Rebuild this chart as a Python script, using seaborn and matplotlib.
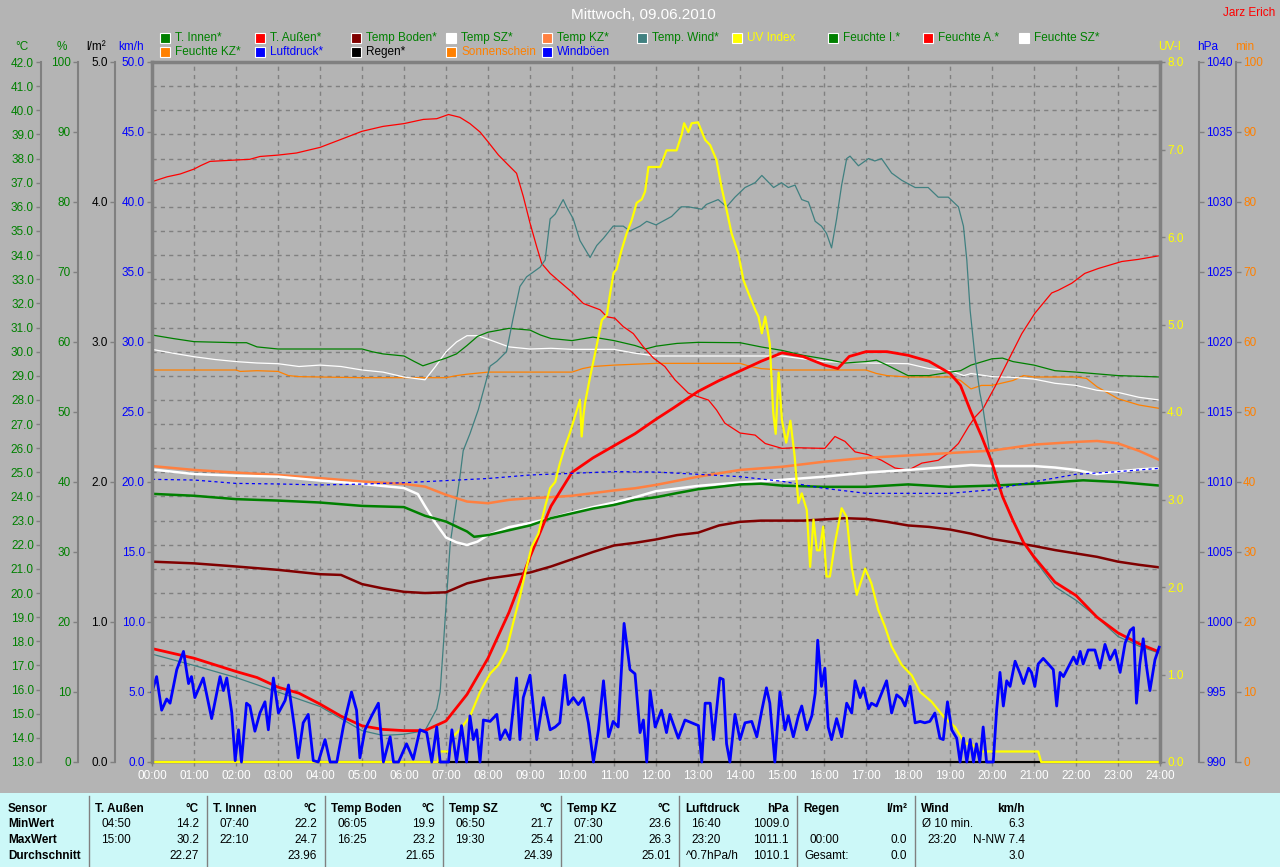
import numpy as np
import seaborn as sns
import matplotlib.pyplot as plt
from matplotlib.patches import Rectangle
from matplotlib.lines import Line2D

# ---------------- data (time in hours) ----------------
t_innen_t = [0, 1, 2, 3, 4, 5, 6, 6.5, 7, 7.5, 7.67, 8, 8.5, 9, 9.5, 10, 10.5, 11, 11.5, 12,
             12.5, 13, 13.5, 14, 14.5, 15, 16, 17, 18, 19, 20, 21, 22, 22.17, 23, 24]
t_innen = [24.11, 24.03, 23.89, 23.83, 23.75, 23.61, 23.56, 23.2, 22.96, 22.55, 22.33, 22.4, 22.6, 22.8,
           23.1, 23.3, 23.5, 23.65, 23.86, 23.97, 24.14, 24.3, 24.4, 24.5, 24.53, 24.45, 24.4, 24.4,
           24.5, 24.4, 24.45, 24.53, 24.65, 24.67, 24.6, 24.45]

t_aussen_t = [0, 1, 2, 2.5, 3, 3.5, 4, 4.5, 5, 5.5, 6, 6.5, 7, 7.5, 8, 8.5, 9, 9.5, 10, 10.5,
              11, 11.5, 12, 12.4, 13, 13.5, 14, 14.5, 15, 15.5, 16, 16.33, 16.6, 17, 17.5, 18, 18.5, 19, 19.25, 19.5,
              19.75, 20, 20.25, 20.5, 20.75, 21, 21.5, 22, 22.5, 23, 23.5, 24]
t_aussen = [17.7, 17.3, 16.75, 16.5, 16.1, 15.85, 15.4, 14.9, 14.5, 14.35, 14.3, 14.3, 14.7, 15.8, 17.3, 19.2,
            21.5, 23.6, 25.0, 25.6, 26.1, 26.6, 27.2, 27.65, 28.35, 28.8, 29.2, 29.6, 29.95, 29.8, 29.45, 29.3,
            29.8, 30.0, 30.0, 29.85, 29.6, 29.1, 28.6, 27.5, 26.5, 25.4, 24.0, 23.0, 22.1, 21.5, 20.45, 19.9,
            19.0, 18.35, 17.9, 17.55]

boden_t = [0, 1, 2, 3, 4, 4.5, 5, 5.5, 6, 6.5, 7, 7.5, 8, 8.5, 9, 9.5, 10, 10.5, 11, 11.5, 12, 12.5, 13,
           13.5, 14, 14.5, 15, 15.5, 16, 16.5, 17, 17.5, 18, 18.5, 19, 19.5, 20, 20.5, 21, 21.5, 22, 22.5,
           23, 23.5, 24]
boden = [21.3, 21.23, 21.1, 20.96, 20.78, 20.75, 20.37, 20.19, 20.05, 20.0, 20.03, 20.4, 20.6, 20.72, 20.85,
         21.1, 21.4, 21.7, 21.97, 22.08, 22.22, 22.4, 22.5, 22.8, 22.95, 23.0, 23.0, 23.0, 23.05, 23.1, 23.07,
         22.95, 22.8, 22.74, 22.63, 22.46, 22.24, 22.1, 21.95, 21.78, 21.64, 21.5, 21.3, 21.17, 21.06]

sz_t = [0, 1, 2, 3, 4, 5, 6, 6.33, 6.5, 6.75, 7, 7.25, 7.5, 7.75, 8, 8.5, 9, 9.5, 10, 10.5, 11, 11.5, 12,
        13, 14, 15, 16, 17, 18, 19, 19.5, 20, 21, 21.5, 22, 22.5, 23, 23.5, 24]
sz = [25.12, 24.93, 24.86, 24.82, 24.66, 24.52, 24.35, 24.1, 23.6, 22.9, 22.3, 22.1, 21.99, 22.13, 22.4,
      22.73, 22.9, 23.1, 23.34, 23.56, 23.75, 23.97, 24.22, 24.44, 24.58, 24.69, 24.82, 24.99, 25.1, 25.23,
      25.3, 25.26, 25.26, 25.2, 25.1, 24.93, 25.03, 25.12, 25.17]

kz_t = [0, 1, 2, 3, 4, 5, 6, 6.5, 7, 7.5, 8, 8.5, 9, 9.5, 10, 10.5, 11, 11.5, 12, 13, 14, 15, 16, 17,
        18, 19, 20, 21, 22, 22.5, 23, 23.5, 24]
kz = [25.26, 25.1, 24.99, 24.89, 24.76, 24.62, 24.52, 24.41, 24.07, 23.79, 23.72, 23.86, 23.93, 23.97,
      24.03, 24.14, 24.25, 24.34, 24.48, 24.82, 25.1, 25.23, 25.44, 25.6, 25.7, 25.8, 25.9, 26.15, 26.26,
      26.3, 26.2, 25.89, 25.5]

wind_temp_t = [0, 1, 2, 3, 4, 5, 5.5, 6, 6.5, 6.78, 6.86, 6.94, 7.1, 7.33, 7.41, 7.57, 7.77, 8.05, 8.21, 8.44,
               8.6, 8.76, 8.92, 9.08, 9.24, 9.36, 9.48, 9.6, 9.79, 9.87, 10.03, 10.19, 10.43, 10.59, 10.75,
               10.98, 11.22, 11.38, 11.62, 11.78, 12.0, 12.37, 12.6, 12.77, 13.09, 13.2, 13.48, 13.68, 13.88,
               14.12, 14.36, 14.52, 14.8, 14.99, 15.15, 15.31, 15.47, 15.63, 15.79, 15.94, 16.06, 16.18, 16.3,
               16.42, 16.54, 16.62, 16.82, 17.06, 17.21, 17.37, 17.61, 17.85, 18.17, 18.48, 18.72, 18.96, 19.2,
               19.32, 19.4, 19.48, 19.6, 19.71, 19.79, 19.91, 20.03, 20.23, 20.47, 20.71, 21.02, 21.5, 22.0,
               22.5, 23.0, 23.5, 24.0]
wind_temp = [17.47, 17.0, 16.5, 15.9, 15.3, 14.3, 14.1, 14.15, 14.3, 15.2, 15.9, 17.9, 22.05, 24.8, 25.9,
             26.6, 27.6, 29.4, 29.6, 30.0, 31.4, 32.7, 33.1, 33.3, 33.5, 33.8, 35.5, 35.7, 36.3, 36.0, 35.5,
             34.6, 33.9, 34.4, 34.7, 35.2, 35.2, 35.0, 35.2, 35.4, 35.25, 35.6, 36.0, 36.0, 35.9, 36.1, 36.3,
             36.0, 36.4, 36.8, 37.0, 37.3, 36.8, 37.0, 36.8, 36.9, 36.3, 36.2, 35.4, 35.2, 34.9, 34.3, 35.5,
             36.9, 38.0, 38.1, 37.7, 38.0, 37.9, 38.0, 37.4, 37.1, 36.8, 36.8, 36.4, 36.4, 36.0, 35.2, 33.8,
             31.7, 29.7, 28.3, 27.6, 26.2, 24.8, 24.1, 23.16, 22.2, 21.37, 20.26, 19.7, 19.0, 18.2, 17.8, 17.5]

feuchte_i_t = [0, 0.5, 1, 2, 2.25, 2.5, 3, 4, 5, 5.25, 5.5, 6, 6.25, 6.45, 7, 7.25, 7.5, 7.75, 8, 8.5,
               9, 9.25, 9.5, 10, 10.5, 11, 11.5, 11.75, 12, 12.5, 13, 14, 14.5, 15, 15.5, 16, 16.5, 17, 17.25,
               17.5, 18, 18.5, 19, 19.25, 19.5, 20, 20.25, 20.5, 21, 21.5, 22, 23, 24]
feuchte_i = [61.0, 60.5, 60.05, 59.9, 59.9, 59.3, 59.0, 59.0, 59.0, 58.6, 58.3, 58.0, 57.2, 56.6, 57.7, 58.3,
             59.5, 60.8, 61.4, 61.95, 61.7, 61.0, 60.5, 60.2, 60.7, 60.2, 59.5, 59.0, 59.4, 59.8, 59.95, 59.9,
             59.3, 58.8, 58.1, 57.6, 57.0, 57.2, 57.4, 56.7, 55.2, 55.2, 55.7, 55.9, 56.7, 57.6, 57.7, 57.2,
             56.7, 55.9, 55.7, 55.2, 55.0]

feuchte_a_t = [0, 0.36, 0.67, 1.0, 1.16, 1.38, 2.0, 2.33, 2.57, 3.0, 3.44, 4.0, 4.48, 5.0, 5.5, 6.0, 6.46,
               6.78, 7.06, 7.33, 7.57, 7.81, 8.0, 8.25, 8.48, 8.68, 8.84, 9.0, 9.16, 9.28, 9.48, 9.71, 10.02,
               10.27, 10.67, 10.83, 11.02, 11.22, 11.46, 11.7, 11.94, 12.21, 12.45, 12.77, 13.0, 13.25, 13.44,
               13.64, 14.0, 14.36, 14.6, 15.0, 15.31, 16.02, 16.26, 16.5, 16.74, 17.06, 17.37, 17.69, 18.01,
               18.33, 18.72, 18.96, 19.2, 19.44, 19.6, 19.79, 20.07, 20.39, 20.71, 21.02, 21.42, 21.58, 21.9,
               22.21, 22.53, 23.09, 23.48, 23.96]
feuchte_a = [82.9, 83.6, 84.0, 84.7, 85.2, 85.8, 86.0, 86.1, 86.5, 86.7, 87.0, 87.8, 88.9, 90.1, 90.8, 91.2,
             91.8, 91.9, 92.5, 92.1, 91.2, 90.0, 88.6, 86.7, 85.3, 84.1, 80.8, 77.0, 73.6, 71.2, 69.8, 68.6,
             67.0, 65.5, 64.6, 63.6, 63.4, 62.2, 61.2, 59.3, 57.7, 56.5, 54.6, 52.7, 52.2, 51.7, 50.3, 48.4,
             47.0, 46.7, 45.5, 44.8, 44.9, 44.8, 46.5, 45.8, 44.3, 43.9, 43.1, 42.0, 41.7, 42.7, 43.1, 44.1,
             45.5, 47.9, 49.3, 50.5, 53.6, 57.4, 61.2, 64.1, 67.0, 67.4, 68.4, 69.8, 70.5, 71.5, 71.8, 72.3]

feuchte_sz_t = [0, 0.5, 1, 1.5, 2, 2.5, 3, 3.5, 4, 4.5, 5, 5.5, 6, 6.5, 6.75, 7, 7.25, 7.5, 7.75, 8, 8.5,
                9, 9.5, 10, 11, 11.5, 12, 13, 14, 15, 15.5, 16, 17, 18, 18.5, 19, 19.33, 19.5, 20, 20.5, 21,
                21.5, 22, 22.5, 23, 23.5, 24]
feuchte_sz = [58.95, 58.4, 57.9, 57.5, 57.2, 57.0, 56.9, 56.5, 56.7, 56.5, 56.0, 55.7, 55.0, 54.6, 56.5,
              58.6, 60.0, 60.9, 60.9, 60.4, 59.3, 59.0, 59.1, 58.95, 58.95, 58.4, 58.0, 58.0, 58.0, 58.0, 57.6,
              57.2, 57.0, 56.9, 56.2, 55.9, 55.2, 55.5, 55.05, 54.95, 54.7, 54.1, 53.8, 53.1, 52.8, 52.1, 51.7]

feuchte_kz_t = [0, 1, 2, 2.1, 2.5, 3, 3.25, 3.5, 4, 5, 6, 7, 7.25, 7.5, 8, 9, 10, 10.25, 10.5, 11, 12, 13,
                14, 14.25, 14.5, 15, 16, 17, 17.25, 17.5, 18, 19, 19.25, 19.5, 19.75, 20, 20.5, 20.75, 21, 22,
                22.25, 22.5, 23, 23.5, 24]
feuchte_kz = [56.0, 56.0, 56.0, 55.8, 55.9, 55.8, 55.2, 55.05, 55.0, 54.9, 54.9, 54.9, 55.2, 55.4, 55.7,
              55.7, 55.7, 56.2, 56.5, 56.7, 56.95, 56.95, 56.95, 56.5, 56.2, 56.0, 56.0, 56.0, 55.5, 55.2,
              55.0, 55.0, 54.5, 53.3, 53.8, 53.8, 54.5, 55.2, 55.0, 55.0, 54.8, 53.6, 51.9, 51.0, 50.5]

druck_t = list(range(25))
druck = [1010.19, 1010.14, 1009.90, 1009.86, 1009.79, 1009.85, 1009.95, 1010.10, 1010.25, 1010.50, 1010.62,
         1010.74, 1010.71, 1010.55, 1010.38, 1010.05, 1009.55, 1009.19, 1009.19, 1009.19, 1009.45, 1010.02,
         1010.55, 1010.74, 1010.98]

uv_t = [0, 6.8, 6.86, 7.1, 7.17, 7.33, 7.57, 7.81, 8.05, 8.25, 8.44, 8.6, 8.76, 8.92, 9.04, 9.2, 9.36, 9.48,
        9.6, 9.71, 9.83, 9.95, 10.07, 10.19, 10.23, 10.27, 10.31, 10.43, 10.55, 10.71, 10.83, 10.91, 10.99,
        11.06, 11.18, 11.3, 11.42, 11.54, 11.66, 11.74, 11.82, 12.1, 12.25, 12.49, 12.61, 12.67, 12.77, 12.85,
        13.0, 13.17, 13.29, 13.44, 13.56, 13.68, 13.8, 13.96, 14.08, 14.2, 14.36, 14.44, 14.52, 14.6, 14.71,
        14.79, 14.85, 14.92, 15.0, 15.1, 15.2, 15.3, 15.39, 15.47, 15.59, 15.67, 15.75, 15.83, 15.9, 15.98,
        16.06, 16.14, 16.26, 16.42, 16.54, 16.66, 16.78, 16.98, 17.13, 17.29, 17.45, 17.61, 17.85, 18.09,
        18.29, 18.56, 18.88, 19.12, 19.36, 19.5, 19.71, 21.1, 21.17, 24]
uv = [0, 0, 0.12, 0.12, 0.29, 0.37, 0.52, 0.80, 1.01, 1.11, 1.28, 1.59, 1.89, 2.23, 2.46, 2.61, 2.92, 3.13,
      3.2, 3.41, 3.6, 3.76, 3.95, 4.14, 3.72, 3.95, 4.1, 4.4, 4.67, 5.05, 5.11, 5.36, 5.59, 5.63, 5.85, 6.04,
      6.19, 6.39, 6.43, 6.52, 6.8, 6.8, 6.99, 6.99, 7.17, 7.3, 7.2, 7.3, 7.31, 7.11, 7.05, 6.88, 6.57, 6.31,
      6.04, 5.81, 5.51, 5.36, 5.17, 5.09, 4.9, 5.09, 4.78, 4.0, 3.75, 4.45, 3.9, 3.65, 3.9, 3.5, 2.96, 3.07,
      2.88, 2.23, 2.77, 2.42, 2.42, 2.69, 2.12, 2.12, 2.5, 2.9, 2.8, 2.23, 1.91, 2.21, 2.04, 1.74, 1.55,
      1.32, 1.11, 0.99, 0.8, 0.69, 0.5, 0.4, 0.21, 0.21, 0.12, 0.12, 0, 0]

boeen_t = [0.0, 0.11, 0.23, 0.35, 0.43, 0.59, 0.75, 0.87, 0.94, 1.02,
           1.22, 1.42, 1.62, 1.70, 1.78, 1.90, 1.98, 2.06, 2.13, 2.25,
           2.33, 2.45, 2.57, 2.69, 2.77, 2.89, 3.01, 3.17, 3.25, 3.40,
           3.48, 3.60, 3.72, 3.84, 3.96, 4.12, 4.24, 4.40, 4.56, 4.75,
           4.87, 4.95, 5.07, 5.23, 5.39, 5.51, 5.67, 5.75, 5.87, 6.06,
           6.22, 6.38, 6.54, 6.66, 6.78, 6.86, 7.06, 7.14, 7.25, 7.37,
           7.49, 7.57, 7.65, 7.73, 7.81, 7.89, 8.05, 8.21, 8.29, 8.41,
           8.52, 8.68, 8.76, 8.84, 9.00, 9.16, 9.32, 9.48, 9.60, 9.71,
           9.83, 9.91, 10.03, 10.15, 10.27, 10.39, 10.51, 10.63, 10.75, 10.87,
           10.98, 11.10, 11.24, 11.38, 11.50, 11.62, 11.70, 11.78, 11.86, 11.98,
           12.02, 12.13, 12.25, 12.33, 12.53, 12.69, 13.01, 13.09, 13.17, 13.29,
           13.37, 13.52, 13.60, 13.68, 13.76, 13.88, 14.00, 14.12, 14.28, 14.40,
           14.52, 14.63, 14.71, 14.83, 14.95, 15.07, 15.15, 15.27, 15.39, 15.47,
           15.59, 15.71, 15.79, 15.85, 15.94, 16.02, 16.10, 16.18, 16.30, 16.42,
           16.54, 16.66, 16.74, 16.86, 16.94, 17.06, 17.13, 17.25, 17.37, 17.49,
           17.61, 17.73, 17.85, 17.93, 18.05, 18.17, 18.29, 18.40, 18.52, 18.64,
           18.76, 18.84, 18.94, 19.04, 19.16, 19.24, 19.32, 19.40, 19.48, 19.56,
           19.63, 19.71, 19.79, 19.87, 20.03, 20.11, 20.19, 20.27, 20.35, 20.43,
           20.55, 20.67, 20.75, 20.87, 20.94, 21.02, 21.10, 21.22, 21.34, 21.46,
           21.54, 21.62, 21.70, 21.82, 21.94, 22.02, 22.10, 22.17, 22.29, 22.45,
           22.57, 22.69, 22.81, 22.93, 23.05, 23.17, 23.29, 23.37, 23.44, 23.52,
           23.60, 23.68, 23.76, 23.88, 23.98]
boeen = [5.0, 6.1, 3.7, 4.5, 4.2, 6.6, 7.9, 5.6, 6.1, 4.6,
         6.0, 3.1, 6.1, 5.1, 6.0, 3.5, 0.1, 2.3, 0.0, 4.2,
         4.0, 2.2, 3.5, 4.3, 2.3, 6.0, 3.5, 4.4, 5.5, 2.3,
         0.3, 2.8, 3.4, 0.1, 0.0, 1.6, 0.0, 0.0, 2.6, 5.0,
         3.7, 0.3, 2.3, 3.3, 4.2, 0.0, 1.8, 0.0, 0.0, 1.3,
         0.2, 2.3, 2.1, 0.0, 2.5, 0.0, 0.0, 2.3, 0.0, 2.6,
         0.0, 3.3, 1.6, 2.3, 0.0, 3.0, 2.9, 3.4, 1.6, 2.3,
         1.6, 6.0, 1.6, 4.6, 6.2, 1.6, 4.6, 2.3, 2.5, 2.8,
         6.2, 4.1, 4.6, 4.1, 4.6, 2.8, 0.0, 2.3, 5.8, 1.8,
         2.9, 2.5, 9.9, 6.6, 6.3, 2.1, 3.0, 0.0, 5.1, 2.5,
         2.8, 3.7, 2.1, 3.4, 1.7, 3.0, 2.6, 0.0, 4.2, 4.2,
         1.6, 6.0, 5.9, 1.3, 0.0, 3.4, 1.6, 2.8, 2.9, 1.8,
         3.7, 5.3, 4.2, 0.0, 5.0, 2.3, 3.3, 1.8, 3.3, 4.0,
         2.3, 3.3, 4.9, 8.7, 5.4, 6.7, 2.5, 1.6, 3.1, 1.8,
         4.2, 3.5, 5.8, 4.6, 5.3, 3.8, 4.2, 4.0, 4.9, 5.8,
         3.5, 4.8, 4.5, 4.0, 5.4, 2.8, 2.9, 2.8, 2.9, 3.5,
         1.7, 1.6, 4.3, 2.3, 1.7, 0.0, 1.7, 0.0, 1.6, 0.0,
         1.3, 0.0, 2.5, 0.0, 0.0, 3.7, 6.4, 4.0, 5.8, 5.4,
         7.2, 6.3, 5.6, 6.7, 6.4, 5.4, 7.0, 7.4, 7.0, 6.6,
         4.0, 6.4, 6.1, 6.8, 7.5, 7.0, 7.9, 7.0, 8.0, 8.0,
         6.7, 8.4, 7.3, 8.0, 6.4, 8.5, 9.4, 9.6, 4.2, 7.0,
         8.8, 6.8, 5.1, 7.3, 8.2]

regen_t = [0, 24]
regen = [0.0, 0.0]
sonne_t = [0, 24]
sonne = [0, 0]

hours = list(range(25))
hour_labels = [f'{h:02d}:00' for h in hours]

# ---------------- style ----------------
BG = '#b4b4b4'
GRID = '#808080'
GREEN = '#008000'
RED = '#ff0000'
MAROON = '#800000'
CORAL = '#ff8040'
TEAL = '#408080'
YELLOW = '#ffff00'
ORANGE = '#ff8000'
BLUE = '#0000ff'
CYAN = '#ccf8f8'

plt.rcParams['font.family'] = ['Liberation Sans', 'DejaVu Sans']
plt.rcParams['font.size'] = 8.5

PW, PH = 1280, 867


def fx(p):
    return p / PW


def fy(p):
    return 1 - p / PH


def pt(p):
    return p * 0.72


fig = plt.figure(figsize=(12.8, 8.67), dpi=100, facecolor=BG)
ax = fig.add_axes([fx(152), fy(762), 1008 / PW, 700 / PH])
ax.set_facecolor(BG)


def side_axis(side, off, lo, hi, step, fmt, color, lw=1.5):
    a = ax.twinx()
    for s in a.spines.values():
        s.set_visible(False)
    sp = a.spines[side]
    sp.set_visible(True)
    sp.set_position(('outward', pt(off)))
    sp.set_color(GRID)
    sp.set_linewidth(lw)
    a.yaxis.set_ticks_position(side)
    ticks = np.arange(lo, hi + step / 2, step)
    a.set_yticks(ticks)
    a.set_yticklabels([fmt.format(v) for v in ticks])
    a.set_ylim(lo, hi)
    a.tick_params(axis='y', color=GRID, labelcolor=color, length=pt(5), width=1, pad=1.5, labelsize=8.5)
    return a


ax_min = side_axis('right', 76, 0, 100, 10, '{:.0f}', ORANGE)
ax_rain = side_axis('left', 37, 0, 5, 1, '{:.1f}', 'black')
ax_pct = side_axis('left', 74, 0, 100, 10, '{:.0f}', GREEN)
ax_t = ax.twinx()
ax_t.axis('off')
ax_hpa = side_axis('right', 39, 990, 1040, 5, '{:.0f}', BLUE)
ax_uv = side_axis('right', 0, 0, 8, 1, '{:.1f}', YELLOW, lw=2.5)
ax_kmh = side_axis('left', 0, 0, 50, 5, '{:.1f}', BLUE, lw=2.5)

# baseline series (sunshine hidden under rain)
sns.lineplot(x=sonne_t, y=sonne, ax=ax_min, color=ORANGE, linewidth=1.5, clip_on=False)
sns.lineplot(x=regen_t, y=regen, ax=ax_rain, color='black', linewidth=1.5, clip_on=False)

# humidity
sns.lineplot(x=feuchte_kz_t, y=feuchte_kz, ax=ax_pct, color=ORANGE, linewidth=0.9)
sns.lineplot(x=feuchte_sz_t, y=feuchte_sz, ax=ax_pct, color='white', linewidth=0.9)
sns.lineplot(x=feuchte_i_t, y=feuchte_i, ax=ax_pct, color=GREEN, linewidth=0.9)
sns.lineplot(x=feuchte_a_t, y=feuchte_a, ax=ax_pct, color=RED, linewidth=0.9)

# temperatures
sns.lineplot(x=wind_temp_t, y=wind_temp, ax=ax_t, color=TEAL, linewidth=0.9)
sns.lineplot(x=boden_t, y=boden, ax=ax_t, color=MAROON, linewidth=1.8)
sns.lineplot(x=kz_t, y=kz, ax=ax_t, color=CORAL, linewidth=1.8)
sns.lineplot(x=sz_t, y=sz, ax=ax_t, color='white', linewidth=1.8)
sns.lineplot(x=t_innen_t, y=t_innen, ax=ax_t, color=GREEN, linewidth=1.8)
sns.lineplot(x=t_aussen_t, y=t_aussen, ax=ax_t, color=RED, linewidth=2.0)

# pressure, uv, gusts
sns.lineplot(x=druck_t, y=druck, ax=ax_hpa, color=BLUE, linewidth=0.9, linestyle=(0, (2.5, 2.5)))
sns.lineplot(x=uv_t, y=uv, ax=ax_uv, color=YELLOW, linewidth=1.6, clip_on=False)
sns.lineplot(x=boeen_t, y=boeen, ax=ax_kmh, color=BLUE, linewidth=2.0, clip_on=False)

for a, lim in [(ax_rain, (0, 5)), (ax_min, (0, 100)), (ax_pct, (0, 100)), (ax_t, (13, 42)),
               (ax_hpa, (990, 1040)), (ax_uv, (0, 8)), (ax_kmh, (0, 50))]:
    a.set_ylim(*lim)
    a.set_xlabel('')
    a.set_ylabel('')

# main (°C) axis with grid
ax.set_ylim(13, 42)
ax.set_yticks(np.arange(13, 43))
ax.set_yticklabels([f'{v:.1f}' for v in range(13, 43)])
ax.set_xticks(hours)
ax.set_xticklabels(hour_labels)
ax.set_xlim(0, 24)
ax.grid(True, color=GRID, linestyle=(0, (3, 3)), linewidth=1)
ax.set_axisbelow(True)
ax.spines['left'].set_position(('outward', pt(111)))
ax.spines['left'].set_color(GRID)
ax.spines['left'].set_linewidth(1.5)
ax.spines['top'].set_color(GRID)
ax.spines['top'].set_linewidth(2.5)
ax.spines['right'].set_visible(False)
ax.spines['bottom'].set_color(GRID)
ax.spines['bottom'].set_linewidth(1)
ax.tick_params(axis='y', color=GRID, labelcolor=GREEN, length=pt(5), width=1, pad=1.5, labelsize=8.5)
ax.tick_params(axis='x', color=GRID, labelcolor='white', length=pt(4), width=1, pad=3, labelsize=8.5)

# axis headers
for x, txt, c in [(22, '°C', GREEN), (62, '%', GREEN), (96, 'l/m²', 'black'), (131, 'km/h', BLUE),
                  (1170, 'UV-I', YELLOW), (1208, 'hPa', BLUE), (1245, 'min', ORANGE)]:
    fig.text(fx(x), fy(47), txt, color=c, ha='center', va='center', fontsize=8.5)

# title
fig.text(fx(643), fy(15), 'Mittwoch, 09.06.2010', color='white', ha='center', va='center', fontsize=11)
fig.text(fx(1275), fy(13), 'Jarz Erich', color=RED, ha='right', va='center', fontsize=8.5)

# legend (two rows on a fixed grid)
legend_items = [
    ('T. Innen*', GREEN, GREEN), ('T. Außen*', RED, GREEN), ('Temp Boden*', MAROON, GREEN),
    ('Temp SZ*', 'white', GREEN), ('Temp KZ*', CORAL, GREEN), ('Temp. Wind*', TEAL, GREEN),
    ('UV Index', YELLOW, YELLOW), ('Feuchte I.*', GREEN, GREEN), ('Feuchte A.*', RED, GREEN),
    ('Feuchte SZ*', 'white', GREEN),
    ('Feuchte KZ*', ORANGE, GREEN), ('Luftdruck*', BLUE, BLUE), ('Regen*', 'black', 'black'),
    ('Sonnenschein', ORANGE, ORANGE), ('Windböen', BLUE, BLUE),
]
for i, (label, sw, tc) in enumerate(legend_items):
    row, col = divmod(i, 10)
    x0 = 160 + col * 95.4
    yc = 38 + row * 14
    fig.add_artist(Rectangle((fx(x0), fy(yc + 5)), 10 / PW, 10 / PH, transform=fig.transFigure,
                             facecolor=sw, edgecolor='white', linewidth=0.8))
    fig.text(fx(x0 + 15), fy(yc), label, color=tc, ha='left', va='center', fontsize=8.5)

# statistics table
fig.add_artist(Rectangle((0, 0), 1, fy(793), transform=fig.transFigure, facecolor=CYAN, edgecolor='none'))
rows_y = [809, 824, 840, 856]
fig.text(fx(8), fy(rows_y[0]), 'Sensor', fontweight='bold', ha='left', va='center', fontsize=8.5)
fig.text(fx(8), fy(rows_y[1]), 'MinWert', fontweight='bold', ha='left', va='center', fontsize=8.5)
fig.text(fx(8), fy(rows_y[2]), 'MaxWert', fontweight='bold', ha='left', va='center', fontsize=8.5)
fig.text(fx(8), fy(rows_y[3]), 'Durchschnitt', fontweight='bold', ha='left', va='center', fontsize=8.5)

blocks = [
    ('T. Außen', '°C', ('04:50', '14.2'), ('15:00', '30.2'), ('', '22.27')),
    ('T. Innen', '°C', ('07:40', '22.2'), ('22:10', '24.7'), ('', '23.96')),
    ('Temp Boden', '°C', ('06:05', '19.9'), ('16:25', '23.2'), ('', '21.65')),
    ('Temp SZ', '°C', ('06:50', '21.7'), ('19:30', '25.4'), ('', '24.39')),
    ('Temp KZ', '°C', ('07:30', '23.6'), ('21:00', '26.3'), ('', '25.01')),
    ('Luftdruck', 'hPa', ('16:40', '1009.0'), ('23:20', '1011.1'), ('^0.7hPa/h', '1010.1')),
    ('Regen', 'l/m²', ('', ''), ('00:00', '0.0'), ('Gesamt:', '0.0')),
    ('Wind', 'km/h', ('Ø 10 min.', '6.3'), ('23:20', 'N-NW 7.4'), ('', '3.0')),
]
for k, (name, unit, r1, r2, r3) in enumerate(blocks):
    x0 = 89 + k * 118
    fig.add_artist(Line2D([fx(x0), fx(x0)], [fy(796), 0], transform=fig.transFigure, color=GRID, linewidth=1))
    fig.text(fx(x0 + 6), fy(rows_y[0]), name, fontweight='bold', ha='left', va='center', fontsize=8.5)
    fig.text(fx(x0 + 110), fy(rows_y[0]), unit, fontweight='bold', ha='right', va='center', fontsize=8.5)
    for (left, right), y in zip([r1, r2, r3], rows_y[1:]):
        lx = x0 + 7 if left and not left[0].isdigit() else x0 + 12
        fig.text(fx(lx), fy(y), left, ha='left', va='center', fontsize=8.5)
        fig.text(fx(x0 + 110), fy(y), right, ha='right', va='center', fontsize=8.5)

fig.savefig('out.png', dpi=100, facecolor=BG)
